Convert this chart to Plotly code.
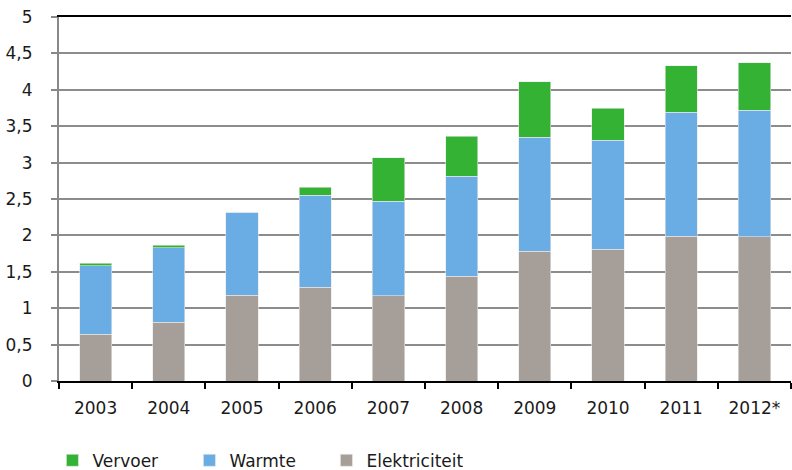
import plotly.graph_objects as go

years = ["2003", "2004", "2005", "2006", "2007", "2008", "2009", "2010", "2011", "2012*"]
elektriciteit = [0.64, 0.81, 1.18, 1.29, 1.17, 1.44, 1.78, 1.81, 1.99, 1.98]
warmte = [0.94, 1.02, 1.14, 1.26, 1.30, 1.37, 1.57, 1.50, 1.70, 1.74]
vervoer = [0.035, 0.035, 0.0, 0.11, 0.60, 0.55, 0.76, 0.44, 0.64, 0.65]

FONT = "DejaVu Sans"
fig = go.Figure()
fig.add_bar(x=years, y=elektriciteit, name="Elektriciteit", marker_color="#A69E98",
            marker_line=dict(color="#E8E8E8", width=0.6), width=0.44, legendrank=3)
fig.add_bar(x=years, y=warmte, name="Warmte", marker_color="#6AADE4",
            marker_line=dict(color="#E8E8E8", width=0.6), width=0.44, legendrank=2)
fig.add_bar(x=years, y=vervoer, name="Vervoer", marker_color="#33B233",
            marker_line=dict(color="#E8E8E8", width=0.6), width=0.44, legendrank=1)

fig.update_layout(
    barmode="stack",
    width=792, height=470,
    margin=dict(l=59, r=1, t=17, b=89, autoexpand=False),
    paper_bgcolor="white", plot_bgcolor="white",
    separators=",.",
    font=dict(family=FONT, size=16, color="#1a1a1a"),
    showlegend=True,
    legend=dict(orientation="h", x=-0.009, xanchor="left", y=-0.219, yanchor="middle",
                entrywidth=92, entrywidthmode="pixels", traceorder="normal",
                font=dict(family=FONT, size=17, color="#1a1a1a"), bgcolor="rgba(0,0,0,0)"),
    xaxis=dict(showline=True, linecolor="black", linewidth=2, mirror=True,
               ticks="outside", tickson="boundaries", ticklen=6, tickwidth=2, tickcolor="black",
               showgrid=False, tickfont=dict(size=17), ticklabelstandoff=11, fixedrange=True),
    yaxis=dict(range=[0, 5], dtick=0.5, tick0=0, showline=True, linecolor="#888888", linewidth=2,
               ticks="outside", ticklen=6, tickwidth=1.5, tickcolor="#888888",
               showgrid=True, gridcolor="#8c8c8c", gridwidth=1.5, zeroline=False,
               tickfont=dict(size=17), ticklabelstandoff=15),
)

fig.write_html("out.html", config={"displayModeBar": False},
               post_script="document.body.style.margin='0px';document.body.style.overflow='hidden';")
